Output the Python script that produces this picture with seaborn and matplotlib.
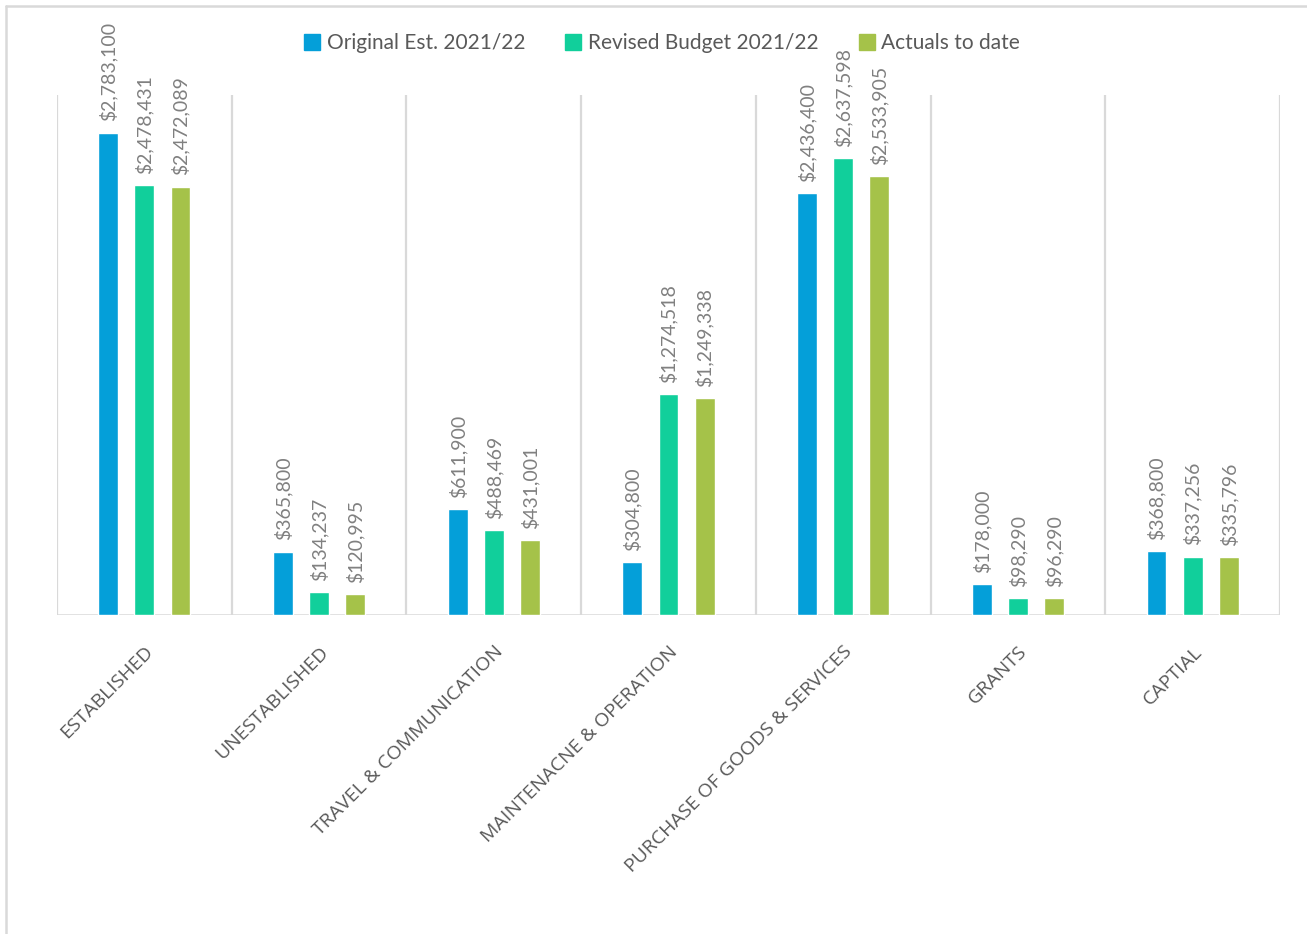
import matplotlib
matplotlib.use("Agg")
import matplotlib.pyplot as plt
from matplotlib.lines import Line2D
import seaborn as sns
import pandas as pd

categories = ["ESTABLISHED", "UNESTABLISHED", "TRAVEL & COMMUNICATION",
              "MAINTENACNE & OPERATION", "PURCHASE OF GOODS & SERVICES",
              "GRANTS", "CAPTIAL"]
series_names = ["Original Est. 2021/22", "Revised Budget 2021/22", "Actuals to date"]
original_est = [2783100, 365800, 611900, 304800, 2436400, 178000, 368800]
revised_budget = [2478431, 134237, 488469, 1274518, 2637598, 98290, 337256]
actuals = [2472089, 120995, 431001, 1249338, 2533905, 96290, 335796]
colors = ["#049FD9", "#11CF9B", "#A5C249"]

rows = []
for name, vals in zip(series_names, [original_est, revised_budget, actuals]):
    for c, v in zip(categories, vals):
        rows.append({"Category": c, "Series": name, "Value": v})
df = pd.DataFrame(rows)

sns.set_theme(style="white")
plt.rcParams['font.family'] = ['Lato', 'DejaVu Sans']

W, H = 1307, 934
fig = plt.figure(figsize=(W / 100, H / 100), dpi=100)
ax = fig.add_axes([57 / W, 1 - 615 / H, (1280 - 57) / W, (615 - 95) / H])

sns.barplot(data=df, x="Category", y="Value", hue="Series", order=categories,
            hue_order=series_names, palette=colors, width=0.62, gap=0.45,
            saturation=1, ax=ax, legend=False)

ax.set_ylim(0, 3000000)
ax.set_xlim(-0.5, len(categories) - 0.5)
for s in ax.spines.values():
    s.set_visible(False)
ax.set_yticks([])
ax.set_xlabel("")
ax.set_ylabel("")

grid_c = "#D9D9D9"
for i in range(len(categories) + 1):
    ax.axvline(i - 0.5, color=grid_c, lw=1.6, zorder=0)
ax.axhline(0, color=grid_c, lw=1.8, zorder=0.5)

for cont in ax.containers:
    ax.bar_label(cont, labels=[f"${v:,.0f}" for v in cont.datavalues],
                 rotation=90, padding=8, color="#808080", fontsize=14)

ax.tick_params(axis="x", length=0, pad=20)
ax.set_xticks(range(len(categories)))
for lbl in ax.set_xticklabels(categories, rotation=45, ha="right", rotation_mode="anchor",
                              color="#595959", fontsize=14):
    lbl.set_family(["Open Sans", "DejaVu Sans"])

handles = [Line2D([0], [0], marker="s", linestyle="none", markersize=11,
                  markerfacecolor=c, markeredgecolor=c) for c in colors]
fig.legend(handles, series_names, loc="center", bbox_to_anchor=(662 / W, 1 - 43 / H),
           ncol=3, frameon=False, fontsize=15, handletextpad=0.3, handlelength=0.8,
           columnspacing=1.9, labelcolor="#595959")

# chart border
fig.add_artist(Line2D([6 / W, 1], [1 - 6 / H, 1 - 6 / H], transform=fig.transFigure,
                      color=grid_c, lw=1.8))
fig.add_artist(Line2D([6 / W, 6 / W], [0, 1 - 6 / H], transform=fig.transFigure,
                      color=grid_c, lw=1.8))

fig.savefig("out.png", dpi=100, facecolor="white")
